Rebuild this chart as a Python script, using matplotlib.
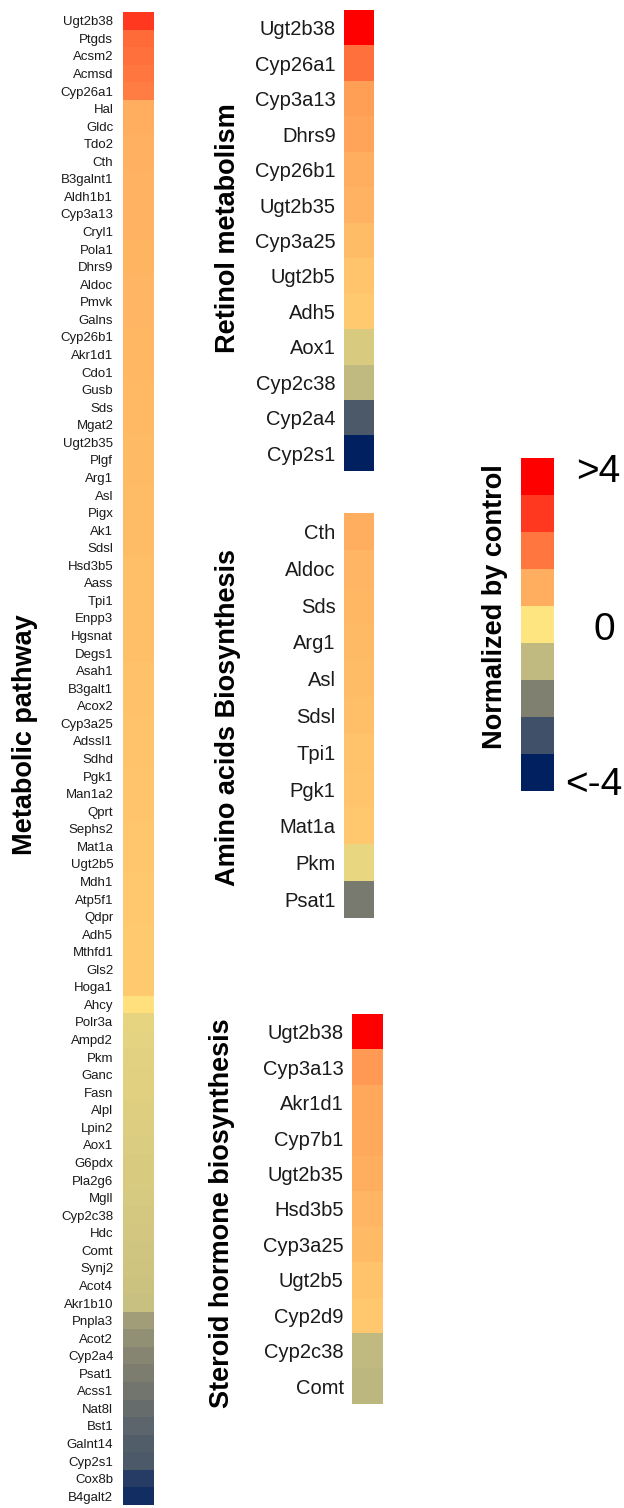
import numpy as np
import matplotlib
matplotlib.use("Agg")
import matplotlib.pyplot as plt
from matplotlib.colors import LinearSegmentedColormap

plt.rcParams['font.family'] = ['Liberation Sans', 'DejaVu Sans']

# legend colours, from -4 (bottom) to >4 (top)
legend_colors = ['#00205F', '#405068', '#808070', '#C0BA80', '#FFE680',
                 '#FFB060', '#FF7840', '#FF3A20', '#FF0000']
legend_values = [-4, -3, -2, -1, 0, 1, 2, 3, 4]

metabolic_genes = [
    'Ugt2b38', 'Ptgds', 'Acsm2', 'Acmsd', 'Cyp26a1', 'Hal', 'Gldc', 'Tdo2', 'Cth',
    'B3galnt1', 'Aldh1b1', 'Cyp3a13', 'Cryl1', 'Pola1', 'Dhrs9', 'Aldoc', 'Pmvk',
    'Galns', 'Cyp26b1', 'Akr1d1', 'Cdo1', 'Gusb', 'Sds', 'Mgat2', 'Ugt2b35', 'Plgf',
    'Arg1', 'Asl', 'Pigx', 'Ak1', 'Sdsl', 'Hsd3b5', 'Aass', 'Tpi1', 'Enpp3', 'Hgsnat',
    'Degs1', 'Asah1', 'B3galt1', 'Acox2', 'Cyp3a25', 'Adssl1', 'Sdhd', 'Pgk1',
    'Man1a2', 'Qprt', 'Sephs2', 'Mat1a', 'Ugt2b5', 'Mdh1', 'Atp5f1', 'Qdpr', 'Adh5',
    'Mthfd1', 'Gls2', 'Hoga1', 'Ahcy', 'Polr3a', 'Ampd2', 'Pkm', 'Ganc', 'Fasn',
    'Alpl', 'Lpin2', 'Aox1', 'G6pdx', 'Pla2g6', 'Mgll', 'Cyp2c38', 'Hdc', 'Comt',
    'Synj2', 'Acot4', 'Akr1b10', 'Pnpla3', 'Acot2', 'Cyp2a4', 'Psat1', 'Acss1',
    'Nat8l', 'Bst1', 'Galnt14', 'Cyp2s1', 'Cox8b', 'B4galt2']
metabolic_values = [
    3.0, 2.2, 2.1, 2.0, 1.9,
    1.0, 1.0, 0.98, 0.97, 0.96, 0.95, 0.95, 0.94, 0.93, 0.92, 0.9, 0.9, 0.88, 0.87,
    0.86, 0.85, 0.84, 0.83, 0.82, 0.81, 0.8, 0.79, 0.78, 0.77, 0.76, 0.75, 0.74,
    0.73, 0.72, 0.71, 0.7, 0.69, 0.68, 0.67, 0.66, 0.65, 0.64, 0.63, 0.62, 0.61,
    0.6, 0.59, 0.58, 0.57, 0.56, 0.55, 0.54, 0.53, 0.52, 0.51, 0.5,
    0.1,
    -0.4, -0.42, -0.45, -0.47, -0.5, -0.52, -0.55, -0.57, -0.6, -0.62, -0.65,
    -0.68, -0.7, -0.75, -0.78, -0.8, -0.85,
    -1.5, -1.7, -1.9, -2.05, -2.2, -2.4, -2.55, -2.7, -2.8, -3.4, -3.7]

retinol_genes = ['Ugt2b38', 'Cyp26a1', 'Cyp3a13', 'Dhrs9', 'Cyp26b1', 'Ugt2b35',
                 'Cyp3a25', 'Ugt2b5', 'Adh5', 'Aox1', 'Cyp2c38', 'Cyp2a4', 'Cyp2s1']
retinol_values = [4.0, 2.1, 1.3, 1.2, 1.05, 0.95, 0.75, 0.6, 0.5, -0.6, -1.0, -2.8, -4.0]

amino_genes = ['Cth', 'Aldoc', 'Sds', 'Arg1', 'Asl', 'Sdsl', 'Tpi1', 'Pgk1', 'Mat1a',
               'Pkm', 'Psat1']
amino_values = [1.0, 0.9, 0.85, 0.8, 0.75, 0.7, 0.65, 0.6, 0.55, -0.35, -2.1]

steroid_genes = ['Ugt2b38', 'Cyp3a13', 'Akr1d1', 'Cyp7b1', 'Ugt2b35', 'Hsd3b5',
                 'Cyp3a25', 'Ugt2b5', 'Cyp2d9', 'Cyp2c38', 'Comt']
steroid_values = [4.0, 1.4, 1.15, 1.1, 1.0, 0.9, 0.8, 0.65, 0.55, -1.0, -1.05]

cmap = LinearSegmentedColormap.from_list(
    'norm', [((v + 4) / 8, c) for v, c in zip(legend_values, legend_colors)])

W, H = 624, 1508
fig = plt.figure(figsize=(W / 100, H / 100), dpi=100)


def px_axes(x0, y0, x1, y1):
    return fig.add_axes([x0 / W, 1 - y1 / H, (x1 - x0) / W, (y1 - y0) / H])


def heat(ax, genes, values, fs, pad):
    ax.imshow(np.array(values)[:, None], cmap=cmap, vmin=-4, vmax=4,
              aspect='auto', interpolation='nearest')
    ax.set_xticks([])
    ax.set_yticks(range(len(genes)))
    ax.set_yticklabels(genes, fontsize=fs, color='#1a1a1a')
    ax.tick_params(axis='y', length=0, pad=pad)
    for s in ax.spines.values():
        s.set_visible(False)


heat(px_axes(123, 12, 154, 1505), metabolic_genes, metabolic_values, 9.5, 7)
heat(px_axes(344, 10, 374, 471), retinol_genes, retinol_values, 14.5, 6)
heat(px_axes(344, 513, 374, 918), amino_genes, amino_values, 14.5, 6)
heat(px_axes(352, 1014, 383, 1404), steroid_genes, steroid_values, 14.5, 6)

# colour key
cax = px_axes(521, 458, 554, 791)
cax.imshow(np.array(legend_values[::-1])[:, None], cmap=cmap, vmin=-4, vmax=4,
           aspect='auto', interpolation='nearest')
cax.set_xticks([])
cax.set_yticks([])
for s in cax.spines.values():
    s.set_visible(False)


def ftext(x, y, s, **kw):
    fig.text(x / W, 1 - y / H, s, **kw)


title_kw = dict(rotation=90, fontsize=19.5, fontweight='bold', ha='center', va='center')
ftext(25, 735, 'Metabolic pathway', **title_kw)
ftext(228, 228, 'Retinol metabolism', **title_kw)
ftext(228, 718, 'Amino acids Biosynthesis', **title_kw)
ftext(222, 1213, 'Steroid hormone biosynthesis', **title_kw)
ftext(495, 607, 'Normalized by control', **title_kw)

ftext(598, 472, '>4', fontsize=28, ha='center', va='center')
ftext(604, 630, '0', fontsize=28, ha='center', va='center')
ftext(594, 785, '<-4', fontsize=28, ha='center', va='center')

fig.savefig('out.png', dpi=100)
